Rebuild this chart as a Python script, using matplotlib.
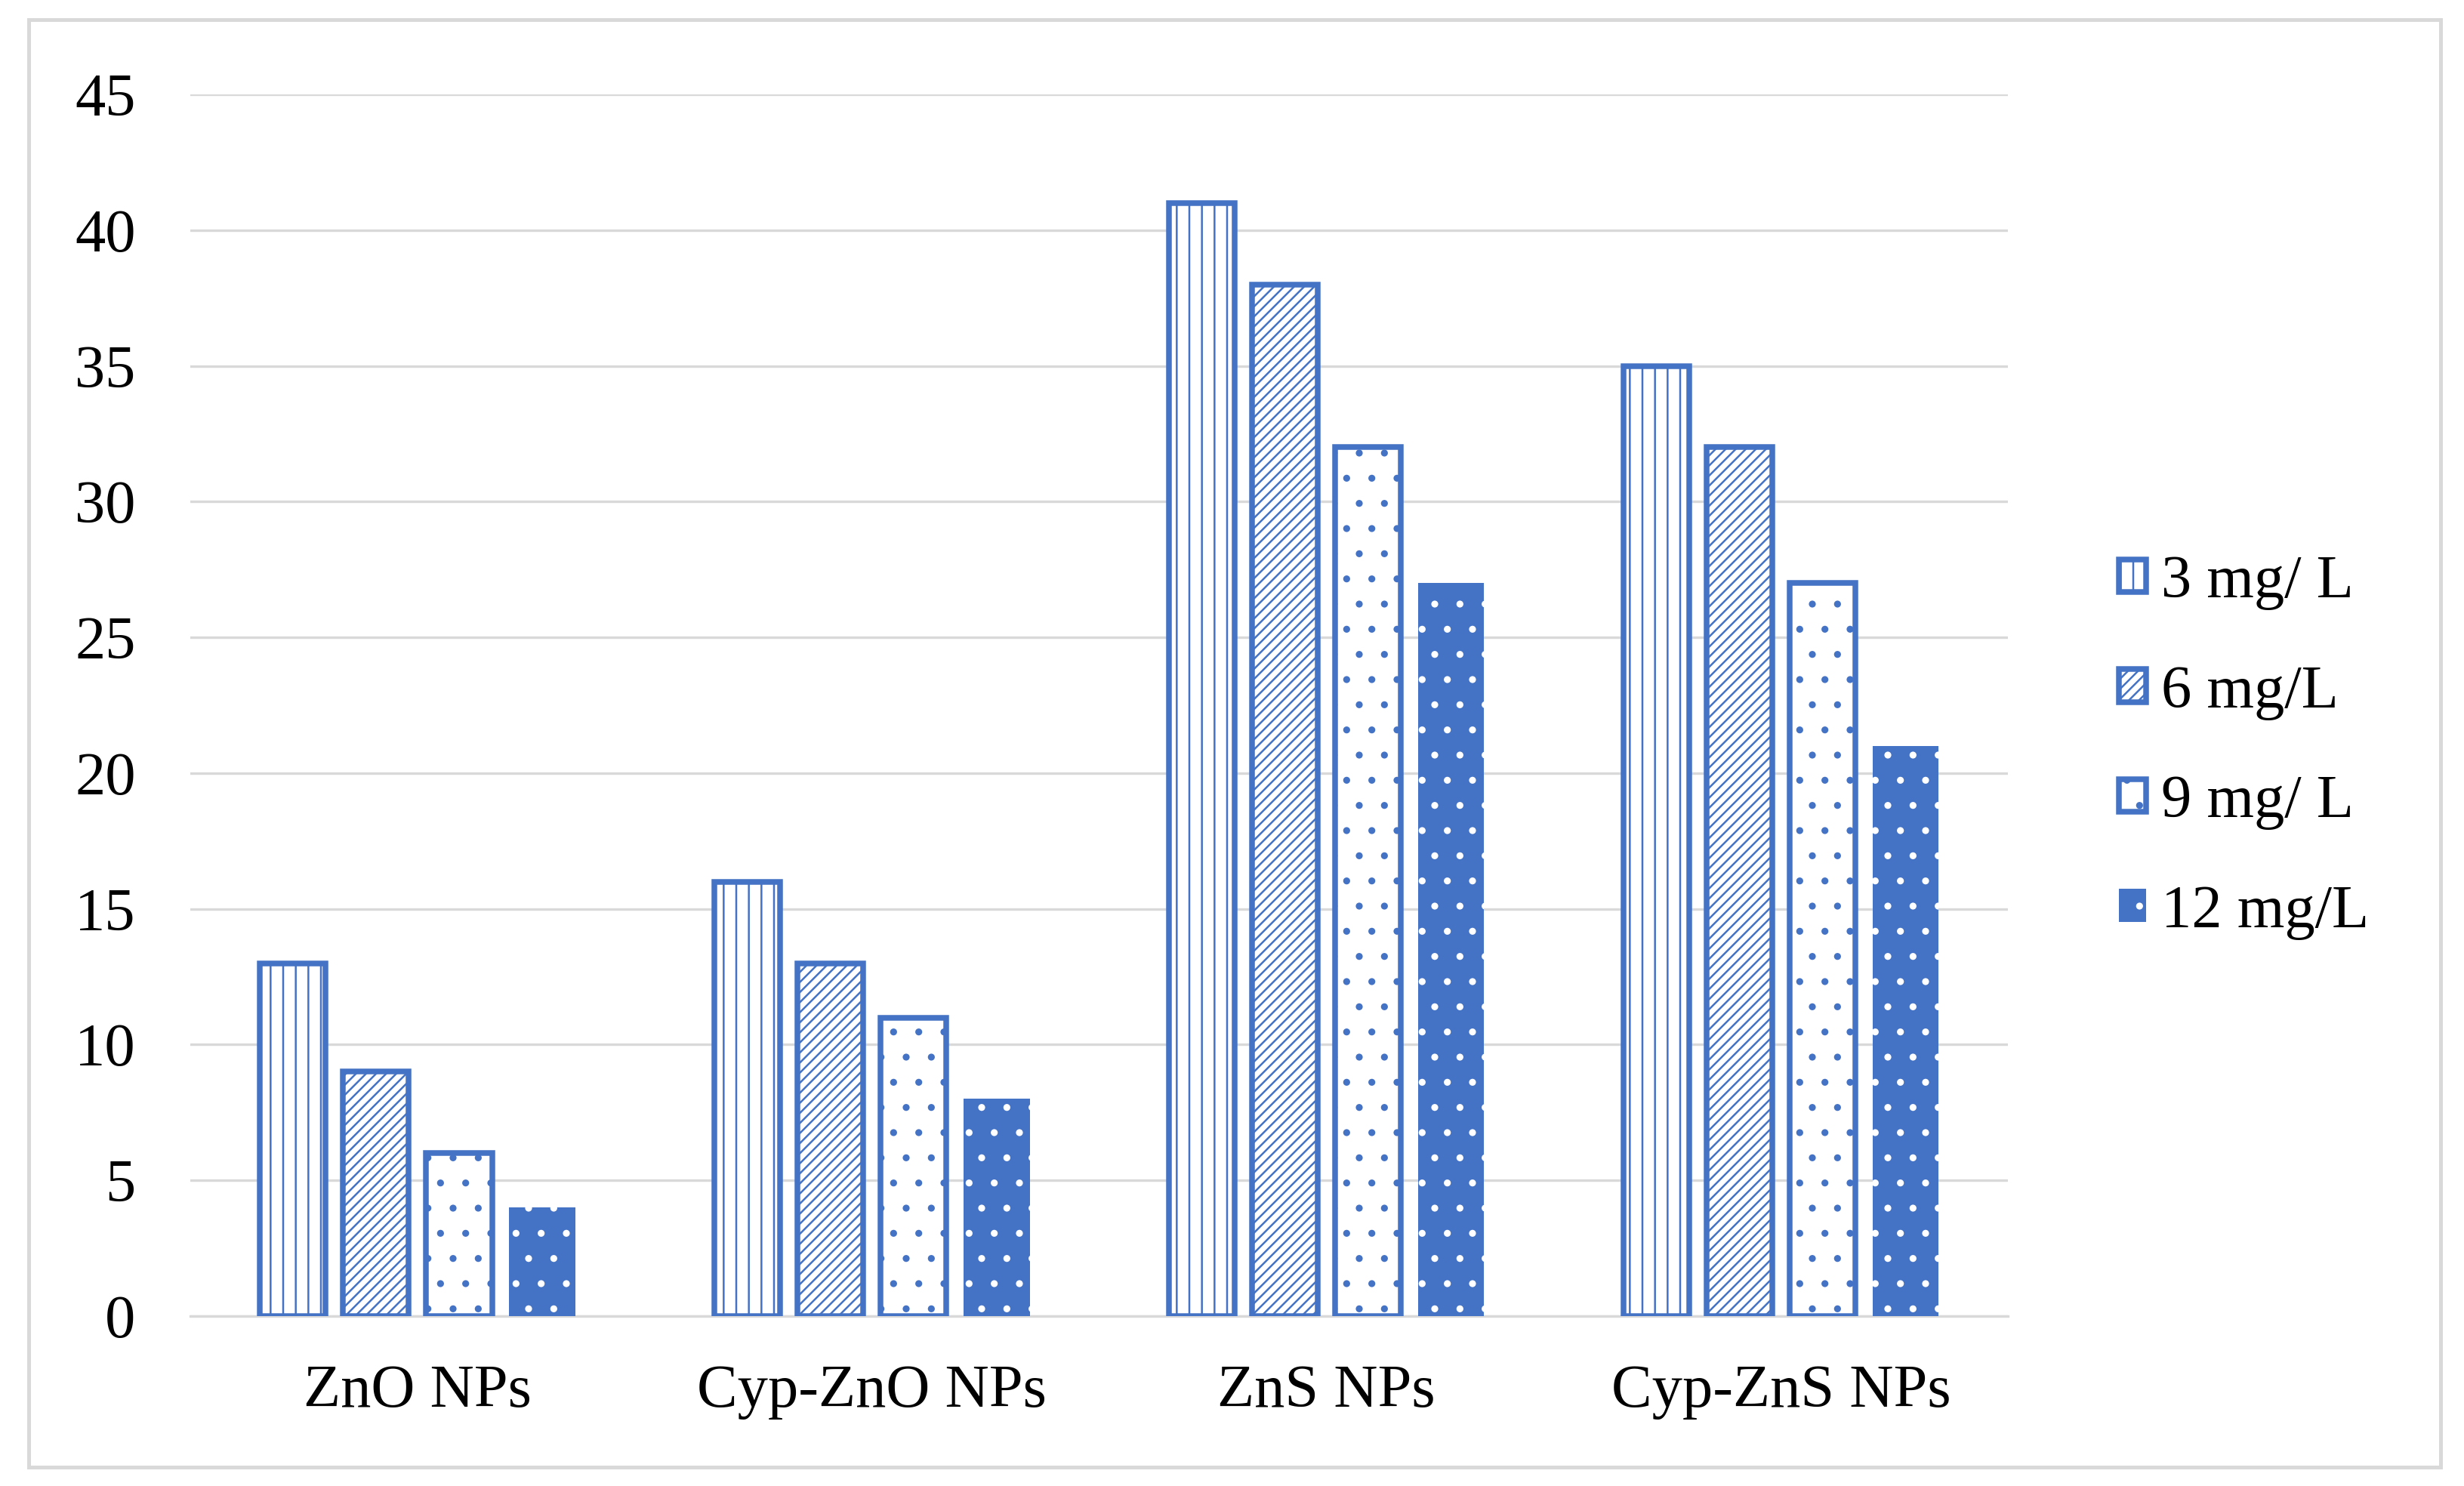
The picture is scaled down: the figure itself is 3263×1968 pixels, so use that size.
import numpy as np
import matplotlib
matplotlib.use("Agg")
import matplotlib.pyplot as plt
from matplotlib.patches import Rectangle

categories = ["ZnO NPs", "Cyp-ZnO NPs", "ZnS NPs", "Cyp-ZnS NPs"]
series_names = ["3 mg/ L", "6 mg/L", "9 mg/ L", "12 mg/L"]
v_3mg = [13, 16, 41, 35]
v_6mg = [9, 13, 38, 32]
v_9mg = [6, 11, 32, 27]
v_12mg = [4, 8, 27, 21]
yticks = [0, 5, 10, 15, 20, 25, 30, 35, 40, 45]

blue = "#4472C4"
plt.rcParams["font.family"] = ["Liberation Serif", "DejaVu Serif"]
plt.rcParams["hatch.linewidth"] = 0.9

fig = plt.figure(figsize=(16.315, 9.84), dpi=200)
ax = fig.add_axes([0.0772, 0.1143, 0.8150 - 0.0772, 0.9365 - 0.1143])

# outer light-grey frame
fig.patches.append(Rectangle((0.0115, 0.0125), 0.9790, 0.9745, transform=fig.transFigure,
                             fill=False, edgecolor="#D9D9D9", linewidth=1.8, zorder=0))

x = np.arange(len(categories))
step = 0.183
width = 0.145
styles = [
    dict(facecolor="white", edgecolor=blue, hatch="||", linewidth=2.7),
    dict(facecolor="white", edgecolor=blue, hatch="/////", linewidth=2.7),
    dict(facecolor="white", edgecolor=blue, hatch=".", linewidth=2.7),
    dict(facecolor=blue, edgecolor="white", hatch=".", linewidth=0),
]
for i, (vals, name) in enumerate(zip([v_3mg, v_6mg, v_9mg, v_12mg], series_names)):
    ax.bar(x + (i - 1.5) * step, vals, width, label=name, zorder=3, **styles[i])

ax.set_xlim(-0.5, 3.5)
ax.set_ylim(0, 45)
ax.set_yticks(yticks)
ax.set_xticks(x)
ax.set_xticklabels(categories)
ax.grid(axis="y", color="#D9D9D9", linewidth=1.2, zorder=0)
ax.set_axisbelow(True)
for s in ["top", "right", "left"]:
    ax.spines[s].set_visible(False)
ax.spines["bottom"].set_color("#D9D9D9")
ax.spines["bottom"].set_linewidth(1.2)
ax.tick_params(axis="both", length=0, labelsize=29, colors="black")
ax.tick_params(axis="y", pad=26)
ax.tick_params(axis="x", pad=23)

leg = fig.legend(loc="center left", bbox_to_anchor=(0.8475, 0.497), frameon=False,
                 fontsize=29, handlelength=0.45, handleheight=0.45,
                 handletextpad=0.25, labelspacing=0.9, borderpad=0)

fig.savefig("out.png", dpi=200, facecolor="white")
